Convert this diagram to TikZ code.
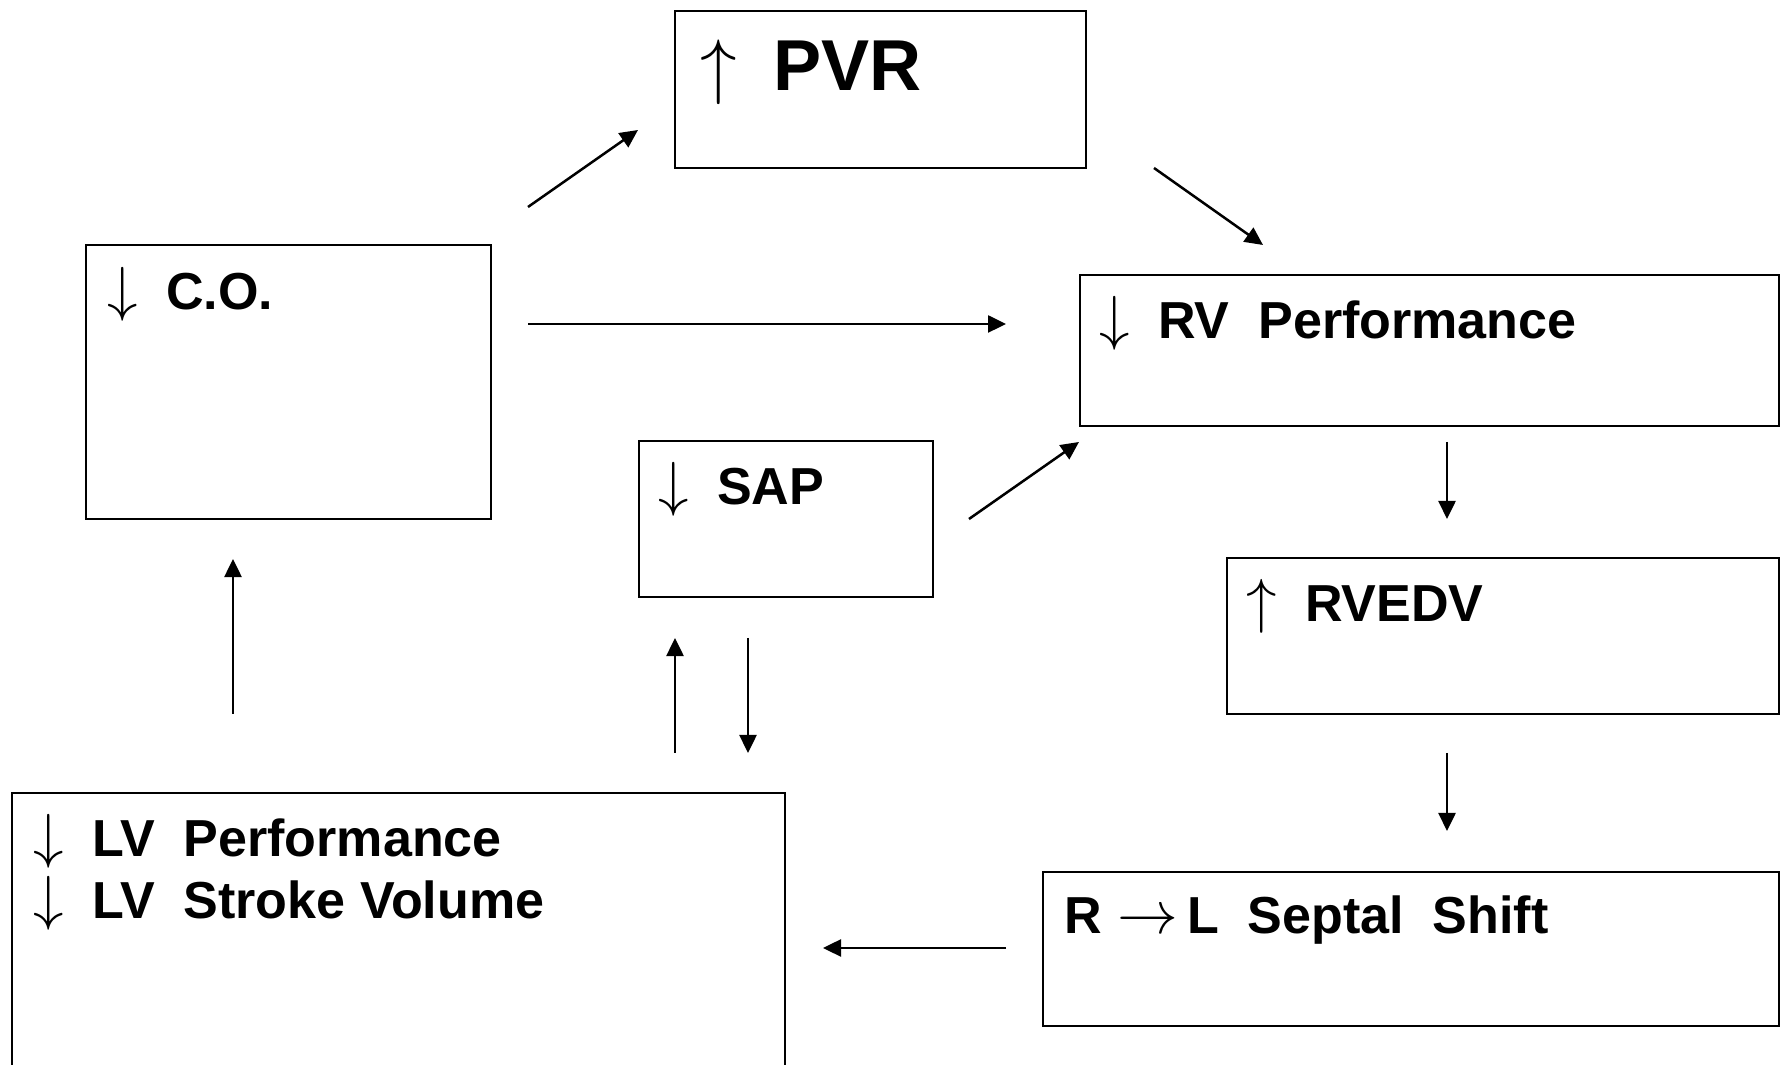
\documentclass[tikz,border=0pt]{standalone}
\usepackage{fontspec}
\setmainfont{Liberation Sans}
\usetikzlibrary{arrows.meta}
\newcommand{\arrdn}{{\fontsize{16.5}{18}\selectfont$\downarrow$}\hspace{0.28cm}}
\newcommand{\arrup}{{\fontsize{16.5}{18}\selectfont$\uparrow$}\hspace{0.28cm}}
\begin{document}
\begin{tikzpicture}[x=0.01cm,y=-0.01cm]
\tikzstyle{b}=[draw,rectangle,line width=0.02cm,inner sep=0pt]
\tikzstyle{t}=[anchor=base west,inner sep=0pt,font=\fontsize{14.8}{17.8}\selectfont\bfseries]
\tikzstyle{f}=[line width=0.025cm,-{Triangle[length=0.18cm,width=0.17cm]}]
\clip (0,0) rectangle (1782,1065);
\fill[white] (0,0) rectangle (1782,1065);
% boxes
\node[b,minimum width=4.11cm,minimum height=1.57cm] (pvr) at (880.5,89.5) {};
\node[b,minimum width=4.05cm,minimum height=2.74cm] (co) at (288.5,382) {};
\node[b,minimum width=6.99cm,minimum height=1.51cm] (rv) at (1429.5,350.5) {};
\node[b,minimum width=2.94cm,minimum height=1.56cm] (sap) at (786,519) {};
\node[b,minimum width=5.52cm,minimum height=1.56cm] (rvedv) at (1503,636) {};
\node[b,minimum width=7.36cm,minimum height=1.54cm] (sept) at (1411,949) {};
\node[b,minimum width=7.73cm,minimum height=3.27cm] (lv) at (398.5,956.5) {};
% labels
\node[t,font=\fontsize{20.5}{24}\selectfont\bfseries] (pvrt) at (700,91) {{\fontsize{19.4}{22}\selectfont$\uparrow$}\hspace{0.36cm}PVR};
\node[t] (cot) at (107,310) {\arrdn C.O.};
\node[t] (rvt) at (1099,339) {\arrdn RV\ \ Performance};
\node[t] (sapt) at (658,505) {\arrdn SAP};
\node[t] (rvedvt) at (1246,622) {\arrup RVEDV};
\node[t] (septt) at (1064,934) {R\hspace{0.15cm}{\fontsize{16.5}{18}\selectfont$\rightarrow$}\hspace{0.09cm}L\ \ Septal\ \ Shift};
\node[t] (lvt1) at (33,857) {\arrdn LV\ \ Performance};
\node[t] (lvt2) at (33,919) {\arrdn LV\ \ Stroke Volume};
% arrow ends
\coordinate (c1) at (528,207); \coordinate (c2) at (638,130);
\coordinate (c3) at (1154,168); \coordinate (c4) at (1263,245);
\coordinate (c5) at (528,324); \coordinate (c6) at (1006,324);
\coordinate (c7) at (969,519); \coordinate (c8) at (1079,442);
\coordinate (c9) at (1447,442); \coordinate (c10) at (1447,519);
\coordinate (c11) at (1447,753); \coordinate (c12) at (1447,831);
\coordinate (c13) at (1006,948); \coordinate (c14) at (823,948);
\coordinate (c15) at (675,753); \coordinate (c16) at (675,638);
\coordinate (c17) at (748,638); \coordinate (c18) at (748,753);
\coordinate (c19) at (233,714); \coordinate (c20) at (233,559);
\draw[f] (c1) -- (c2);
\draw[f] (c3) -- (c4);
\draw[f] (c5) -- (c6);
\draw[f] (c7) -- (c8);
\draw[f] (c9) -- (c10);
\draw[f] (c11) -- (c12);
\draw[f] (c13) -- (c14);
\draw[f] (c15) -- (c16);
\draw[f] (c17) -- (c18);
\draw[f] (c19) -- (c20);
\end{tikzpicture}
\end{document}
